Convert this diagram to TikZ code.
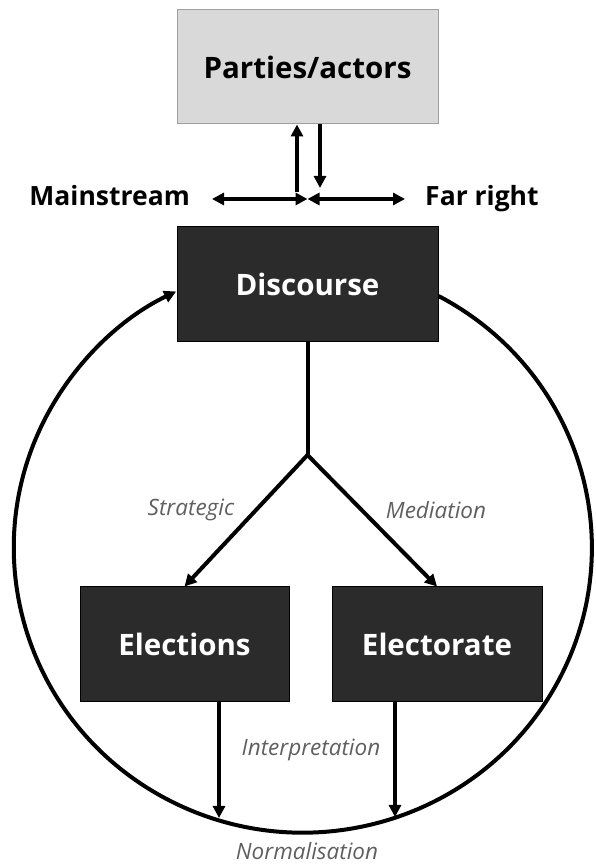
\documentclass[tikz,border=0pt]{standalone}
\usepackage{fontspec}
\setmainfont{Open Sans}
\usetikzlibrary{positioning}
\usetikzlibrary{arrows.meta}
\definecolor{boxdark}{HTML}{2B2B2B}
\definecolor{boxlight}{HTML}{D9D9D9}
\definecolor{labelgrey}{HTML}{5F5F5F}
\tikzset{
  actor/.style={rectangle,draw=gray!75,fill=boxlight,line width=1pt,
                minimum width=261pt,minimum height=114pt,
                font=\bfseries\fontsize{29.5}{34}\selectfont},
  stage/.style={rectangle,draw=black,fill=boxdark,text=white,line width=1pt,
                minimum height=115pt,font=\bfseries\fontsize{29.5}{34}\selectfont},
  pole/.style={inner sep=0pt,font=\bfseries\fontsize{26.5}{31}\selectfont},
  process/.style={font=\itshape\fontsize{22.5}{26}\selectfont,text=labelgrey},
  flow/.style={line width=4pt,-{Triangle[length=12pt,width=12pt]}},
  spectrum/.style={line width=4pt,
                   {Triangle[length=12pt,width=12pt]}-{Triangle[length=12pt,width=12pt]}},
  link/.style={line width=4pt},
}
\begin{document}
\begin{tikzpicture}[x=1pt,y=1pt]
    \useasboundingbox (0,0) rectangle (595,866);

    % Boxes
    \node[actor] (parties) at (307.5,799) {Parties/actors};
    \node[stage,minimum width=261pt] (disc) at (307.5,582) {Discourse};
    \node[stage,minimum width=209pt] (elect) at (184.5,221.5) {Elections};
    \node[stage,minimum width=210pt] (voters) at (437,221.5) {Electorate};

    % Mainstream vs far right
    \coordinate (hub) at (307.5,667);
    \node[pole,anchor=base east] (main) at (190,660) {Mainstream};
    \node[pole,anchor=base west] (far) at (425,660) {Far right};
    \draw[spectrum,shorten >=22pt] (hub) -- (hub -| main.east);
    \draw[spectrum,shorten >=20pt] (hub) -- (hub -| far.west);
    \draw[flow] ([xshift=-10.5pt,yshift=7pt]hub) -- ([xshift=-10.5pt]parties.south);
    \draw[flow] ([xshift=12.5pt]parties.south) -- ([xshift=12.5pt,yshift=11pt]hub);

    % Discourse to elections / electorate
    \coordinate (fork) at (307.5,411);
    \draw[link] (disc.south) -- (fork);
    \draw[flow] (fork) -- (elect.north);
    \draw[flow] (fork) -- (voters.north);
    \node[process] (strat) at (191,356) {Strategic};
    \node[process] (media) at (436,356) {Mediation};

    % Back to discourse
    \coordinate (normL) at (219,48);
    \coordinate (normR) at (395,49);
    \draw[flow] (elect.south -| normL) -- (normL);
    \draw[flow] (voters.south -| normR) -- (normR);
    \node[process] (interp) at (311,116) {Interpretation};
    \node[process,inner sep=0pt,anchor=base] (norm) at (307,6) {Normalisation};
    \draw[flow] ([yshift=-12pt]disc.east)
        arc[start angle=62,end angle=-244,x radius=289pt,y radius=285pt];
\end{tikzpicture}
\end{document}
